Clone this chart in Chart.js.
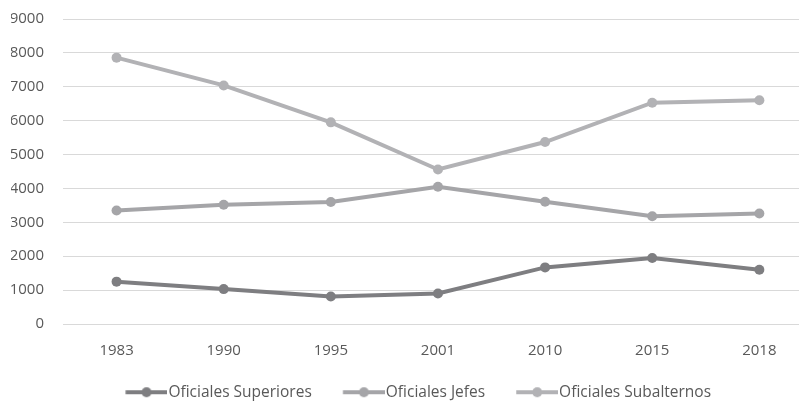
<!DOCTYPE html>
<html>
<head>
<meta charset="utf-8">
<script src="https://cdn.jsdelivr.net/npm/chart.js@4"></script>
<style>
  html, body { margin: 0; padding: 0; background: #ffffff; overflow: hidden; }
  #wrap { width: 804px; height: 414px; }
</style>
</head>
<body>
<div id="wrap"><canvas id="c" width="804" height="414"></canvas></div>
<script>
const years = ['1983', '1990', '1995', '2001', '2010', '2015', '2018'];
const superiores = [1250, 1030, 810, 900, 1670, 1950, 1600];
const jefes = [3350, 3520, 3600, 4050, 3610, 3180, 3260];
const subalternos = [7860, 7040, 5950, 4560, 5370, 6530, 6600];
const yTicks = [0, 1000, 2000, 3000, 4000, 5000, 6000, 7000, 8000, 9000];

const seriesNames = ['Oficiales Superiores', 'Oficiales Jefes', 'Oficiales Subalternos'];
const seriesColors = ['#7e7e81', '#a5a5a8', '#b2b2b5'];
const seriesValues = [superiores, jefes, subalternos];

// legend marker: short line with a dot, with blank space on the left
const MARK_BLANK = 10.25;
function legendMarker(color) {
  const cv = document.createElement('canvas');
  cv.width = 42 + MARK_BLANK; cv.height = 12;
  const g = cv.getContext('2d');
  g.strokeStyle = color; g.lineWidth = 4;
  g.beginPath(); g.moveTo(MARK_BLANK, 6); g.lineTo(MARK_BLANK + 42, 6); g.stroke();
  g.fillStyle = color;
  g.beginPath(); g.arc(MARK_BLANK + 21, 6, 5, 0, Math.PI * 2); g.fill();
  return cv;
}
const markers = seriesColors.map(legendMarker);

const datasets = seriesNames.map((name, k) => ({
  label: name,
  data: seriesValues[k].map((v, i) => ({ x: i, y: v })),
  borderColor: seriesColors[k],
  backgroundColor: seriesColors[k],
  borderWidth: 4,
  pointRadius: 5,
  pointBorderWidth: 0,
  pointBackgroundColor: seriesColors[k],
  tension: 0
}));

const tickFont = { family: "'Open Sans', sans-serif", size: 15 };
const legendFont = { family: "'Open Sans', sans-serif", size: 15.5 };

const shiftLegend = {
  id: 'shiftLegend',
  afterLayout(chart) {
    const lg = chart.legend;
    if (lg) { lg.left += 9; lg.right += 9; }
  }
};

new Chart(document.getElementById('c'), {
  type: 'line',
  data: { datasets },
  plugins: [shiftLegend],
  options: {
    responsive: false,
    animation: false,
    events: [],
    layout: { padding: { left: 11, right: 0, top: 19, bottom: 4 } },
    scales: {
      x: {
        type: 'linear',
        min: -0.5,
        max: 6.37,
        afterBuildTicks: (s) => { s.ticks = years.map((_, i) => ({ value: i })); },
        afterFit: (s) => { s.height = 33; s.paddingLeft = 0; s.paddingRight = 0; },
        grid: { display: false },
        border: { display: false },
        ticks: {
          font: tickFont,
          color: '#595959',
          padding: 10,
          maxRotation: 0,
          autoSkip: false,
          callback: (v) => years[v]
        }
      },
      y: {
        min: 0,
        max: 9000,
        afterBuildTicks: (s) => { s.ticks = yTicks.map(v => ({ value: v })); },
        afterFit: (s) => { s.width = 52; s.paddingTop = 0; s.paddingBottom = 0; },
        grid: { color: '#d9d9d9', lineWidth: 1, drawTicks: false },
        border: { display: false },
        ticks: {
          font: tickFont,
          color: '#595959',
          padding: 19,
          callback: (v) => String(v)
        }
      }
    },
    plugins: {
      tooltip: { enabled: false },
      legend: {
        position: 'bottom',
        align: 'center',
        labels: {
          font: legendFont,
          color: '#595959',
          usePointStyle: true,
          pointStyleWidth: 28.5 + MARK_BLANK,
          padding: 27.5,
          generateLabels: (chart) => {
            const items = Chart.defaults.plugins.legend.labels.generateLabels(chart);
            items.forEach((it, i) => { it.pointStyle = markers[i]; it.fontColor = '#595959'; });
            return items;
          }
        }
      }
    }
  }
});
</script>
</body>
</html>
